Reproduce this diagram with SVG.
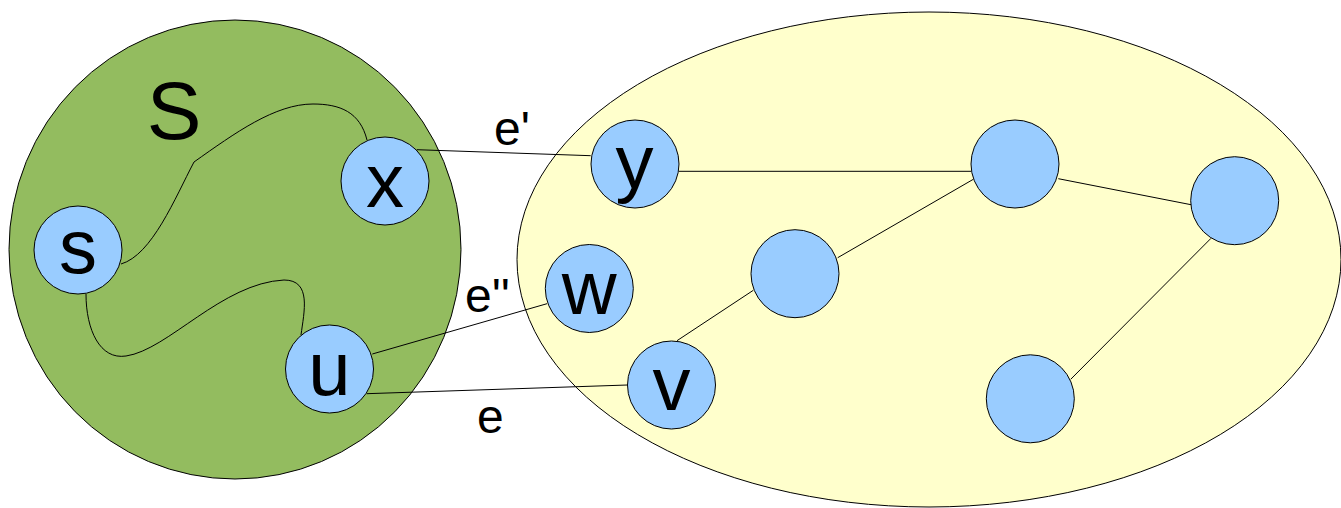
<svg xmlns="http://www.w3.org/2000/svg" width="1341" height="508" viewBox="0 0 1341 508">
<style>
.region{stroke:#000;stroke-width:1}
.node circle{fill:#99ccff;stroke:#000;stroke-width:1}
.edge{stroke:#000;stroke-width:1;fill:none}
.lbl{font-family:"Liberation Sans",Arial,sans-serif;fill:#000;text-anchor:middle}
.nl{font-size:76px}
.el{font-size:48px;text-anchor:start}
</style>
<rect width="1341" height="508" fill="#ffffff"/>
<g id="region-S">
<ellipse class="region" cx="235" cy="249.5" rx="226" ry="229.5" fill="#93bc5f"/>
<text class="lbl" x="174" y="139" font-size="82">S</text>
</g>
<g id="region-rest">
<ellipse class="region" cx="929" cy="259.5" rx="412" ry="247.5" fill="#ffffcc"/>
</g>
<g id="connectors">
<path class="edge" d="M367 140 C360 112 340 104 313 104 C275 104 235 133 194 162 C175 198 152 255 121 264"/>
<path class="edge" d="M86 294 C86 330 100 360 126 356 C168 350 222 283 284 280 C312 280 304 312 301 335"/>
<line class="edge" x1="416.7" y1="149.7" x2="590.7" y2="155.7"/>
<line class="edge" x1="372.3" y1="354" x2="547" y2="303.7"/>
<line class="edge" x1="366.7" y1="393.7" x2="627.3" y2="385"/>
<line class="edge" x1="679" y1="171.3" x2="971" y2="171.3"/>
<line class="edge" x1="837.7" y1="257.7" x2="973.3" y2="179.3"/>
<line class="edge" x1="1058.3" y1="178.7" x2="1191" y2="204.7"/>
<line class="edge" x1="1211" y1="238.3" x2="1070.7" y2="379.3"/>
<line class="edge" x1="677" y1="340.7" x2="753.3" y2="290.3"/>
<text class="lbl el" x="494" y="145">e'</text>
<text class="lbl el" x="465" y="312">e''</text>
<text class="lbl el" x="477" y="433">e</text>
</g>
<g id="node-s" class="node"><circle cx="78" cy="250" r="44"/><text class="lbl nl" x="78" y="273">s</text></g>
<g id="node-x" class="node"><circle cx="385" cy="181" r="44"/><text class="lbl nl" x="385" y="206.5">x</text></g>
<g id="node-u" class="node"><circle cx="329.5" cy="369" r="44"/><text class="lbl nl" x="329.5" y="395" font-size="80">u</text></g>
<g id="node-y" class="node"><circle cx="635" cy="164" r="44"/><text class="lbl nl" x="634.5" y="188">y</text></g>
<g id="node-w" class="node"><circle cx="589.3" cy="288.5" r="44"/><text class="lbl nl" x="589.3" y="314">w</text></g>
<g id="node-v" class="node"><circle cx="671.5" cy="385" r="44"/><text class="lbl nl" x="671.5" y="410">v</text></g>
<g id="node-a" class="node"><circle cx="795" cy="273.7" r="44"/></g>
<g id="node-b" class="node"><circle cx="1015" cy="164" r="44"/></g>
<g id="node-c" class="node"><circle cx="1234.7" cy="200.7" r="44"/></g>
<g id="node-d" class="node"><circle cx="1030.3" cy="398.8" r="44"/></g>
</svg>
